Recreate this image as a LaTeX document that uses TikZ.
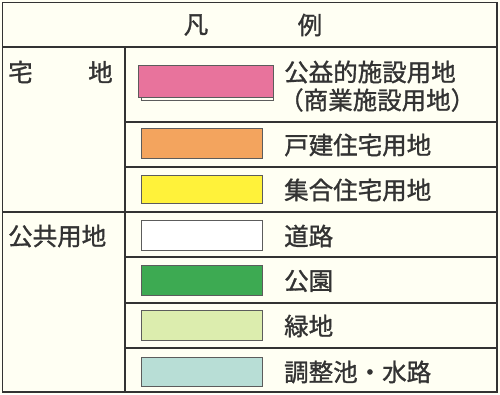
\documentclass[tikz,border=0pt]{standalone}
\usepackage{fontspec}
\newfontfamily\jpfont[FakeBold=1.2]{Noto Sans CJK JP}
\definecolor{paper}{HTML}{FFFFF3}
\definecolor{cpink}{HTML}{E8739C}
\definecolor{corange}{HTML}{F3A45E}
\definecolor{cyellow}{HTML}{FFF23A}
\definecolor{cgreen}{HTML}{3DAA52}
\definecolor{clgreen}{HTML}{DCEDAE}
\definecolor{cteal}{HTML}{B8DED6}
\definecolor{ink}{HTML}{333333}
\tikzset{
  grid/.style={draw=ink, line width=1.4pt},
  swatch/.style={draw=ink!80, line width=0.8pt},
  lbl/.style={anchor=west, inner sep=0pt, font=\jpfont\fontsize{24.5}{28}\selectfont, text=ink},
  cat/.style={anchor=west, inner sep=0pt, font=\jpfont\fontsize{24.5}{28}\selectfont, text=ink},
}
\begin{document}
\begin{tikzpicture}[x=1pt,y=-1pt]
\useasboundingbox (0,0) rectangle (500,394);
\fill[paper] (0,0) rectangle (500,394);
% grid
\draw[grid] (2.5,2.5) rectangle (497,392);
\draw[grid] (2.5,47) -- (497,47);
\draw[grid] (2.5,212) -- (497,212);
\draw[grid] (125,47) -- (125,392);
\foreach \yy in {122,167,257,303,348} \draw[grid] (125,\yy) -- (497,\yy);
% header
\node[lbl, anchor=center] (h1) at (196,25) {凡};
\node[lbl, anchor=center] (h2) at (310,25) {例};
% categories
\node[cat] (c1a) at (8,72) {宅};
\node[cat] (c1b) at (88,72) {地};
\node[cat] (c2) at (8,236) {公共用地};
% swatches
\draw[ink!80, line width=0.8pt] (141,97) -- (141,100) -- (273,100) -- (273,97);
\draw[swatch, fill=cpink] (138,65) rectangle (273,97);
\draw[swatch, fill=corange] (141,128) rectangle (262,158);
\draw[swatch, fill=cyellow] (141,175) rectangle (262,203);
\draw[swatch, fill=white] (141,220) rectangle (262,250);
\draw[swatch, fill=cgreen] (141,265) rectangle (262,295);
\draw[swatch, fill=clgreen] (141,310) rectangle (262,340);
\draw[swatch, fill=cteal] (141,357) rectangle (262,386);
% labels
\node[lbl] (l1) at (284,72) {公益的施設用地};
\node[lbl] (l1b) at (279,100) {（商業施設用地）};
\node[lbl] (l2) at (284,145) {戸建住宅用地};
\node[lbl] (l3) at (284,190) {集合住宅用地};
\node[lbl] (l4) at (284,236) {道路};
\node[lbl] (l5) at (284,281) {公園};
\node[lbl] (l6) at (284,326) {緑地};
\node[lbl] (l7) at (284,372) {調整池・水路};
\end{tikzpicture}
\end{document}
